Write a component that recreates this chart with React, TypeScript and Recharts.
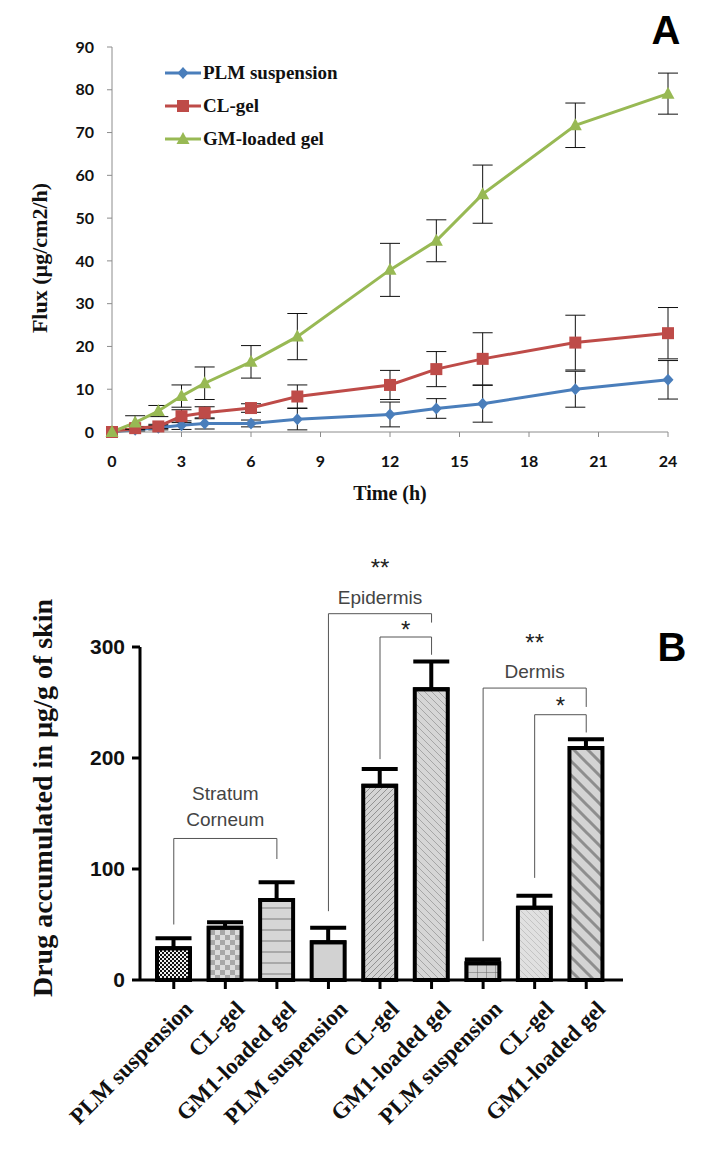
import { LineChart, Line, XAxis, YAxis, ErrorBar, Legend, Label, BarChart, Bar, Cell, ReferenceLine } from "recharts"

document.body.style.margin = "0"

// panel A: flux over time
const hours = [0, 1, 2, 3, 4, 6, 8, 12, 14, 16, 20, 24]
const plmFlux = [0, 0.5, 1.0, 1.6, 2.0, 2.0, 3.0, 4.1, 5.5, 6.6, 10.0, 12.2]
const plmFluxErr = [0, 0.3, 0.5, 1.0, 1.3, 0.8, 2.5, 2.9, 2.3, 4.3, 4.2, 4.5]
const clFlux = [0, 0.9, 1.3, 3.7, 4.5, 5.6, 8.3, 11.0, 14.7, 17.1, 20.9, 23.1]
const clFluxErr = [0, 0.4, 0.5, 1.5, 1.4, 1.0, 2.7, 3.4, 4.1, 6.1, 6.4, 6.0]
const gmFlux = [0, 2.2, 4.9, 8.4, 11.4, 16.4, 22.3, 37.9, 44.7, 55.6, 71.7, 79.1]
const gmFluxErr = [0, 1.6, 1.3, 2.6, 3.8, 3.8, 5.4, 6.2, 4.9, 6.8, 5.2, 4.8]
const hourTicks = [0, 3, 6, 9, 12, 15, 18, 21, 24]
const fluxTicks = [0, 10, 20, 30, 40, 50, 60, 70, 80, 90]

// panel B: drug accumulated per skin layer
const skinGroups = ["sc-plm", "sc-cl", "sc-gm1", "epi-plm", "epi-cl", "epi-gm1", "derm-plm", "derm-cl", "derm-gm1"]
const groupLabels = [
  "PLM suspension", "CL-gel", "GM1-loaded gel",
  "PLM suspension", "CL-gel", "GM1-loaded gel",
  "PLM suspension", "CL-gel", "GM1-loaded gel",
]
const accumulated = [28.6, 47, 72, 34, 175, 262, 15, 65, 209]
const accumulatedErr = [9, 5, 16, 13, 15, 25, 3.5, 11, 8]
const barPatterns = ["checkDark", "checkGray", "hLines", "plain", "diagUp", "diagDown", "grid", "faintDiag", "thickDiag"]
const amountTicks = [0, 100, 200, 300]

const brackets = [
  { from: "sc-plm", to: "sc-gm1", top: 127.5, fromEnd: 50, toEnd: 109 },
  { from: "epi-plm", to: "epi-gm1", top: 330, fromEnd: 62, toEnd: 322 },
  { from: "epi-cl", to: "epi-gm1", top: 309, fromEnd: 199, toEnd: 293 },
  { from: "derm-plm", to: "derm-gm1", top: 263, fromEnd: 35, toEnd: 246 },
  { from: "derm-cl", to: "derm-gm1", top: 239, fromEnd: 92, toEnd: 223 },
]
const bracketNotes = [
  { from: "sc-plm", to: "sc-gm1", y: 168, text: "Stratum" },
  { from: "sc-plm", to: "sc-gm1", y: 145, text: "Corneum" },
  { from: "epi-plm", to: "epi-gm1", y: 345, text: "Epidermis" },
  { from: "epi-plm", to: "epi-gm1", y: 372, text: "**" },
  { from: "epi-cl", to: "epi-gm1", y: 316, text: "*" },
  { from: "derm-plm", to: "derm-gm1", y: 278, text: "Dermis" },
  { from: "derm-plm", to: "derm-gm1", y: 304, text: "**" },
  { from: "derm-cl", to: "derm-gm1", y: 247, text: "*" },
]

const fluxData = hours.map((h, i) => ({
  h,
  plm: plmFlux[i],
  plmErr: plmFluxErr[i],
  cl: clFlux[i],
  clErr: clFluxErr[i],
  gm: gmFlux[i],
  gmErr: gmFluxErr[i],
}))

const skinData = skinGroups.map((g, i) => ({
  g,
  value: accumulated[i],
  err: [0, accumulatedErr[i]],
}))

const BLUE = "#4a7ebb"
const RED = "#be4b48"
const GREEN = "#98b954"
const SERIF = "'Liberation Serif', 'Times New Roman', serif"
const ARIAL = "'Liberation Sans', Arial, sans-serif"

function marker(kind: string, cx: number, cy: number, color: string, key?: string) {
  if (kind === "diamond")
    return <path key={key} d={`M${cx},${cy - 6}L${cx + 5.5},${cy}L${cx},${cy + 6}L${cx - 5.5},${cy}Z`} fill={color} />
  if (kind === "square")
    return <rect key={key} x={cx - 6} y={cy - 6} width={12} height={12} fill={color} />
  return <path key={key} d={`M${cx},${cy - 7}L${cx + 6.5},${cy + 5}L${cx - 6.5},${cy + 5}Z`} fill={color} />
}

const fluxSeries = [
  { key: "plm", name: "PLM suspension", color: BLUE, shape: "diamond" },
  { key: "cl", name: "CL-gel", color: RED, shape: "square" },
  { key: "gm", name: "GM-loaded gel", color: GREEN, shape: "triangle" },
]

function FluxLegend() {
  return (
    <div>
      {fluxSeries.map((s) => (
        <div key={s.key} style={{ display: "flex", alignItems: "center", height: 33 }}>
          <svg width={36} height={16}>
            <line x1={0} y1={8} x2={36} y2={8} stroke={s.color} strokeWidth={3} />
            {marker(s.shape, 18, 8, s.color)}
          </svg>
          <span style={{ fontFamily: SERIF, fontWeight: 700, fontSize: 19, color: "#111", marginLeft: 2 }}>{s.name}</span>
        </div>
      ))}
    </div>
  )
}

function SkinTick({ x, y, payload }: any) {
  const i = skinGroups.indexOf(payload.value)
  return (
    <g transform={`translate(${x + 9},${y + 8})`}>
      <text
        transform="rotate(-45)"
        textAnchor="end"
        dy="0.7em"
        fontFamily={SERIF}
        fontWeight={700}
        fontSize={23}
        fill="#111"
      >
        {groupLabels[i]}
      </text>
    </g>
  )
}

function Patterns() {
  return (
    <defs>
      <pattern id="checkDark" width={4} height={4} patternUnits="userSpaceOnUse">
        <rect width={4} height={4} fill="#111" />
        <rect width={2} height={2} fill="#eee" />
        <rect x={2} y={2} width={2} height={2} fill="#eee" />
      </pattern>
      <pattern id="checkGray" width={10} height={10} patternUnits="userSpaceOnUse">
        <rect width={10} height={10} fill="#dcdcdc" />
        <rect width={5} height={5} fill="#a8a8a8" />
        <rect x={5} y={5} width={5} height={5} fill="#a8a8a8" />
      </pattern>
      <pattern id="hLines" width={10} height={11} patternUnits="userSpaceOnUse">
        <rect width={10} height={11} fill="#d6d6d6" />
        <line x1={0} y1={5} x2={10} y2={5} stroke="#9a9a9a" strokeWidth={1.5} />
      </pattern>
      <pattern id="plain" width={4} height={4} patternUnits="userSpaceOnUse">
        <rect width={4} height={4} fill="#d2d2d2" />
      </pattern>
      <pattern id="diagUp" width={6} height={6} patternUnits="userSpaceOnUse">
        <rect width={6} height={6} fill="#d4d4d4" />
        <path d="M0,6L6,0M-1,1L1,-1M5,7L7,5" stroke="#8a8a8a" strokeWidth={0.9} />
      </pattern>
      <pattern id="diagDown" width={7} height={7} patternUnits="userSpaceOnUse">
        <rect width={7} height={7} fill="#d6d6d6" />
        <path d="M0,0L7,7M-1,6L1,8M6,-1L8,1" stroke="#a0a0a0" strokeWidth={0.9} />
      </pattern>
      <pattern id="grid" width={9} height={9} patternUnits="userSpaceOnUse">
        <rect width={9} height={9} fill="#d0d0d0" />
        <path d="M0,0L9,0M0,0L0,9" stroke="#666" strokeWidth={1} />
      </pattern>
      <pattern id="faintDiag" width={6} height={6} patternUnits="userSpaceOnUse">
        <rect width={6} height={6} fill="#e0e0e0" />
        <path d="M0,0L6,6M-1,5L1,7M5,-1L7,1" stroke="#c4c4c4" strokeWidth={1} />
      </pattern>
      <pattern id="thickDiag" width={14} height={14} patternUnits="userSpaceOnUse">
        <rect width={14} height={14} fill="#d4d4d4" />
        <path d="M0,0L14,14M-3,11L3,17M11,-3L17,3" stroke="#8e8e8e" strokeWidth={3} />
      </pattern>
    </defs>
  )
}

const panelLetter = (text: string, left: number, top: number) => (
  <div
    style={{
      position: "absolute",
      left,
      top,
      transform: "translate(-50%, -50%)",
      fontFamily: ARIAL,
      fontWeight: 700,
      fontSize: 40,
      color: "#000",
    }}
  >
    {text}
  </div>
)

const axisTitle = (text: string, left: number, top: number, size: number) => (
  <div
    style={{
      position: "absolute",
      left,
      top,
      transform: "translate(-50%, -50%) rotate(-90deg)",
      whiteSpace: "nowrap",
      fontFamily: SERIF,
      fontWeight: 700,
      fontSize: size,
      color: "#111",
    }}
  >
    {text}
  </div>
)

export default function App() {
  const axisGray = "#8c8c8c"
  return (
    <div style={{ position: "relative", width: 702, height: 1155, background: "#fff", overflow: "hidden" }}>
      <div style={{ position: "absolute", left: 0, top: 0 }}>
        <LineChart width={702} height={520} data={fluxData} margin={{ top: 47, right: 34, left: 42, bottom: 43 }}>
          <XAxis
            dataKey="h"
            type="number"
            domain={[0, 24]}
            ticks={hourTicks}
            height={45}
            stroke={axisGray}
            tickSize={5}
            tickMargin={19}
            tick={{ fill: "#111", fontFamily: "Lato, sans-serif", fontWeight: 700, fontSize: 16 }}
          >
            <Label
              value="Time (h)"
              position="bottom"
              offset={9}
              style={{ fontFamily: SERIF, fontWeight: 700, fontSize: 20, fill: "#111" }}
            />
          </XAxis>
          <YAxis
            type="number"
            domain={[0, 90]}
            ticks={fluxTicks}
            width={70}
            stroke={axisGray}
            tickSize={5}
            tickMargin={13}
            tick={{ fill: "#111", fontFamily: "Lato, sans-serif", fontWeight: 700, fontSize: 16 }}
          />
          <Legend
            layout="vertical"
            align="center"
            verticalAlign="middle"
            content={<FluxLegend />}
            wrapperStyle={{ left: 165, top: 56, width: 220, height: 100 }}
          />
          {fluxSeries.map((s) => (
            <Line
              key={s.key}
              dataKey={s.key}
              name={s.name}
              stroke={s.color}
              strokeWidth={3}
              isAnimationActive={false}
              dot={(p: any) => marker(s.shape, p.cx, p.cy, s.color, `${s.key}-${p.index}`)}
              activeDot={false}
            >
              <ErrorBar dataKey={`${s.key}Err`} width={10} stroke="#111" strokeWidth={1} isAnimationActive={false} />
            </Line>
          ))}
        </LineChart>
      </div>
      {panelLetter("A", 666, 30)}
      {axisTitle("Flux (µg/cm2/h)", 40, 258, 22)}

      <div style={{ position: "absolute", left: 0, top: 540 }}>
        <BarChart width={702} height={615} data={skinData} margin={{ top: 107, right: 79, left: 70, bottom: 5 }}>
          <Patterns />
          <XAxis
            dataKey="g"
            height={170}
            interval={0}
            padding={{ left: 8, right: 11 }}
            stroke="#000"
            strokeWidth={3}
            tickSize={9}
            tickLine={{ stroke: "#000", strokeWidth: 3 }}
            tick={<SkinTick />}
          />
          <YAxis
            type="number"
            domain={[0, 300]}
            ticks={amountTicks}
            width={70}
            stroke="#000"
            strokeWidth={3}
            tickSize={8}
            tickMargin={7}
            tickLine={{ stroke: "#000", strokeWidth: 3 }}
            tick={{ fill: "#111", fontFamily: ARIAL, fontWeight: 700, fontSize: 21 }}
          />
          <Bar dataKey="value" barSize={33} stroke="#000" strokeWidth={4} isAnimationActive={false}>
            {skinData.map((d, i) => (
              <Cell key={d.g} fill={`url(#${barPatterns[i]})`} />
            ))}
            <ErrorBar dataKey="err" width={18} stroke="#000" strokeWidth={4} isAnimationActive={false} />
          </Bar>
          {brackets.map((b, i) => [
            <ReferenceLine
              key={`bt${i}`}
              segment={[{ x: b.from, y: b.top }, { x: b.to, y: b.top }]}
              stroke="#555"
              strokeWidth={1}
              ifOverflow="visible"
            />,
            <ReferenceLine
              key={`bl${i}`}
              segment={[{ x: b.from, y: b.top }, { x: b.from, y: b.fromEnd }]}
              stroke="#555"
              strokeWidth={1}
              ifOverflow="visible"
            />,
            <ReferenceLine
              key={`br${i}`}
              segment={[{ x: b.to, y: b.top }, { x: b.to, y: b.toEnd }]}
              stroke="#555"
              strokeWidth={1}
              ifOverflow="visible"
            />,
          ])}
          {bracketNotes.map((n, i) => (
            <ReferenceLine
              key={`n${i}`}
              segment={[{ x: n.from, y: n.y }, { x: n.to, y: n.y }]}
              stroke="none"
              ifOverflow="visible"
              label={{
                value: n.text,
                position: "center",
                style: {
                  fontFamily: ARIAL,
                  fontSize: n.text.startsWith("*") ? 24 : 19,
                  fill: n.text.startsWith("*") ? "#222" : "#444",
                },
              }}
            />
          ))}
        </BarChart>
      </div>
      {panelLetter("B", 672, 647)}
      {axisTitle("Drug accumulated in µg/g of skin", 43, 798, 28)}
    </div>
  )
}
